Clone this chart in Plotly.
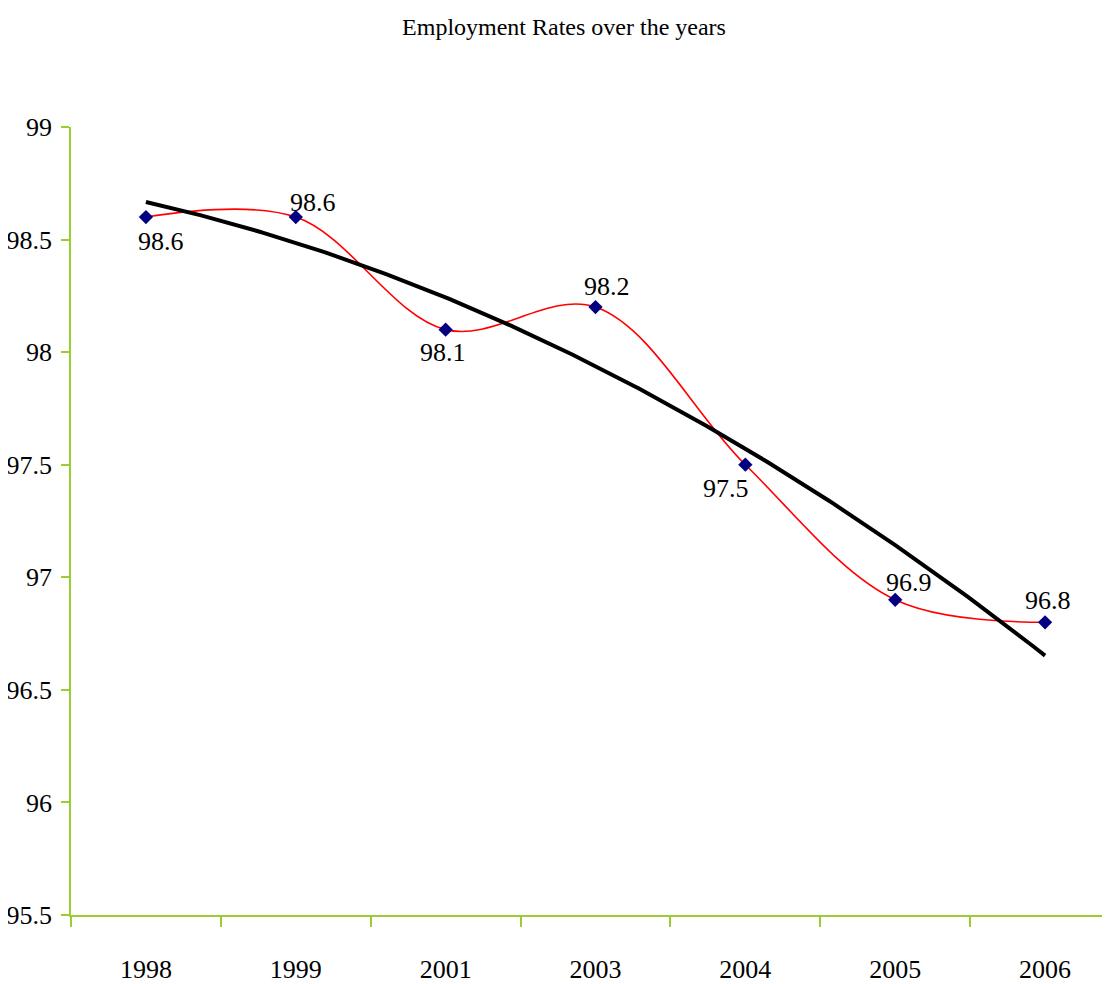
import numpy as np
import plotly.graph_objects as go

years = ["1998", "1999", "2001", "2003", "2004", "2005", "2006"]
rates = [98.6, 98.6, 98.1, 98.2, 97.5, 96.9, 96.8]
y_ticks = [95.5, 96, 96.5, 97, 97.5, 98, 98.5, 99]
# pixel offsets of each data label from its marker (style only)
label_dx = [15, 17, -3, 11, -19, 14, 3]
label_dy = [-24, 15, -23, 21, -24, 17, 22]

idx = np.arange(len(years))
# Excel-style polynomial (order 2) trendline fitted to the data
coef = np.polyfit(idx + 1, rates, 2)
tx = np.linspace(0, len(years) - 1, 200)
ty = np.polyval(coef, tx + 1)

axis_color = "#9ACD32"
font_family = "Liberation Serif, Times New Roman, serif"

W, H = 1102, 976  # page body has an 8px default margin

fig = go.Figure()
fig.add_trace(go.Scatter(
    x=idx, y=rates, mode="lines+markers",
    line=dict(color="#FF0000", width=1.6, shape="spline", smoothing=1.0),
    marker=dict(symbol="diamond", color="#000080", size=11),
    showlegend=False, cliponaxis=False,
))
fig.add_trace(go.Scatter(
    x=tx, y=ty, mode="lines",
    line=dict(color="#000000", width=4),
    showlegend=False, hoverinfo="skip",
))

for i, v in enumerate(rates):
    fig.add_annotation(x=idx[i], y=v, text=f"{v:.1f}", showarrow=False,
                       xshift=label_dx[i], yshift=label_dy[i],
                       font=dict(family=font_family, size=26, color="#000000"))

fig.update_layout(
    width=W, height=H,
    margin=dict(l=63, r=0, t=119, b=69),
    paper_bgcolor="white", plot_bgcolor="white",
    font=dict(family=font_family, size=26, color="#000000"),
    title=dict(text="Employment Rates over the years", x=556 / W, xref="container",
               y=1 - 19 / H, yref="container", yanchor="middle", xanchor="center",
               font=dict(family=font_family, size=24, color="#000000")),
    xaxis=dict(
        range=[-0.5, len(years) - 0.5 - 10 / 150],
        tickvals=list(idx), ticktext=years, ticks="",
        showline=True, linecolor=axis_color, linewidth=1.5,
        showgrid=False, zeroline=False, automargin=False,
        ticklabelstandoff=30,
        minor=dict(ticks="outside", ticklen=10, tickcolor=axis_color, tickwidth=1.5,
                   tick0=-0.5, dtick=1, showgrid=False),
    ),
    yaxis=dict(
        range=[95.5, 99], tickvals=y_ticks, ticktext=[f"{v:g}" for v in y_ticks],
        ticks="outside", ticklen=8, tickcolor=axis_color, tickwidth=1.5,
        showline=True, linecolor=axis_color, linewidth=1.5,
        showgrid=False, zeroline=False, automargin=False, ticklabelstandoff=4,
    ),
)

fig.write_html("out.html")
